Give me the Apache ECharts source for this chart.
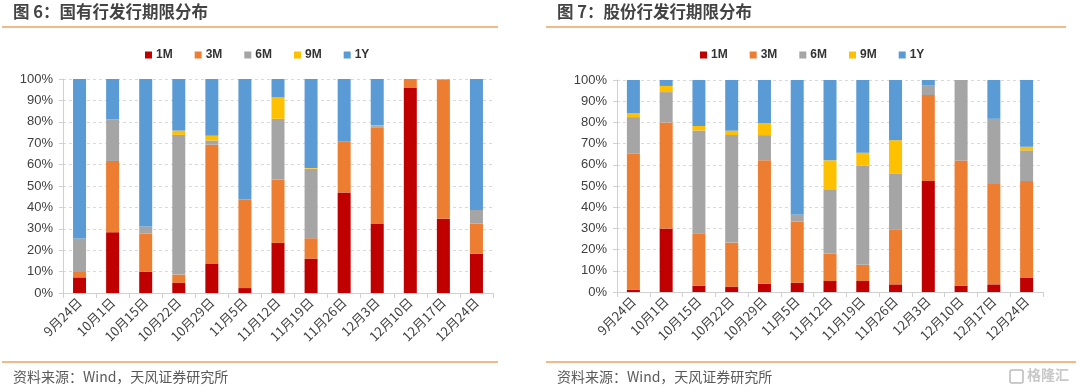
<!DOCTYPE html>
<html><head><meta charset="utf-8">
<script src="https://cdn.jsdelivr.net/npm/echarts@6/dist/echarts.min.js"></script>
<style>html,body{margin:0;padding:0;background:#fff}#c{width:1080px;height:392px}</style>
</head><body><div id="c"></div>
<script>
const categories = ['9月24日','10月1日','10月15日','10月22日','10月29日','11月5日','11月12日','11月19日','11月26日','12月3日','12月10日','12月17日','12月24日'];
const seriesNames = ['1M','3M','6M','9M','1Y'];
const yTicks = ['0%','10%','20%','30%','40%','50%','60%','70%','80%','90%','100%'];
// 图6 国有行 (%)
const state1M = [7.3, 28.4, 10.0, 4.7, 13.8, 2.3, 23.4, 16.1, 47.0, 32.5, 95.8, 34.7, 18.4];
const state3M = [2.9, 33.3, 17.8, 3.9, 55.5, 41.4, 29.6, 9.5, 23.9, 45.0, 4.2, 65.0, 14.1];
const state6M = [15.3, 19.4, 3.3, 65.3, 2.0, 0, 28.4, 32.5, 0, 0.5, 0, 0.3, 6.3];
const state9M = [0, 0, 0, 2.0, 2.2, 0, 10.0, 0.3, 0, 0.3, 0, 0, 0];
const state1Y = [74.5, 18.9, 68.9, 24.1, 26.5, 56.3, 8.6, 41.6, 29.1, 21.7, 0, 0, 61.2];
// 图7 股份行 (%)
const joint1M = [1.1, 29.9, 3.0, 2.4, 3.9, 4.3, 5.2, 5.2, 3.6, 52.4, 3.0, 3.6, 6.6];
const joint3M = [64.2, 50.1, 24.7, 20.9, 58.3, 29.0, 12.8, 7.6, 26.0, 40.5, 59.0, 47.4, 45.7];
const joint6M = [17.2, 14.3, 48.5, 50.7, 11.8, 3.3, 30.5, 46.9, 26.1, 4.7, 38.0, 30.7, 14.5];
const joint9M = [1.9, 2.9, 2.1, 2.1, 5.7, 0, 13.6, 6.0, 15.9, 0, 0, 0, 1.7];
const joint1Y = [15.6, 2.8, 21.7, 23.9, 20.3, 63.4, 37.9, 34.3, 28.4, 2.4, 0, 18.3, 31.5];

const colors = ['#C00000','#ED7D31','#A5A5A5','#FFC000','#5B9BD5'];
const numFont = 'Liberation Sans, Arial, sans-serif';
const cjkFont = '"Noto Sans CJK SC", sans-serif';

function xAxis(gi){
  return {type:'category', gridIndex:gi, data:categories, boundaryGap:true,
    axisLine:{show:true,lineStyle:{color:'#D0D0D0'}},
    axisTick:{show:true,length:5,lineStyle:{color:'#D0D0D0'}},
    axisLabel:{rotate:45, fontSize:13, color:'#404040', fontFamily:cjkFont, margin:7, interval:0}};
}
function yAxis(gi){
  return {type:'value', gridIndex:gi, min:0, max:100, interval:10,
    axisLine:{show:true,lineStyle:{color:'#D0D0D0'}},
    axisTick:{show:true,length:4,lineStyle:{color:'#D0D0D0'}},
    splitLine:{show:true,lineStyle:{color:'#D9D9D9',type:[3,3]}},
    axisLabel:{fontSize:13, color:'#404040', fontFamily:numFont, margin:10,
      formatter:(v)=>yTicks[Math.round(v/10)]}};
}
const groups = [
  [state1M,state3M,state6M,state9M,state1Y],
  [joint1M,joint3M,joint6M,joint9M,joint1Y]
];
const series = [];
groups.forEach((g,gi)=>{
  g.forEach((arr,si)=>{
    series.push({name:seriesNames[si], type:'bar', xAxisIndex:gi, yAxisIndex:gi,
      stack:'s'+gi, barWidth:13, data:arr, itemStyle:{color:colors[si]},
      emphasis:{disabled:true}});
  });
});
function legend(left){
  return {left:left, top:44, itemWidth:7, itemHeight:7, itemGap:22, icon:'rect',
    data:seriesNames, textStyle:{fontSize:12, fontWeight:'bold', color:'#333', fontFamily:numFont, padding:[0,0,0,-1]}};
}
const chart = echarts.init(document.getElementById('c'), null, {renderer:'canvas'});
chart.setOption({
  animation:false,
  color:colors,
  grid:[{left:63, top:79, width:430, height:214},{left:617, top:80, width:426, height:212}],
  xAxis:[xAxis(0), xAxis(1)],
  yAxis:[yAxis(0), yAxis(1)],
  legend:[legend(140), legend(695)],
  series:series,
  graphic:[
    {type:'text', left:13, top:3, style:{text:'图 6：国有行发行期限分布', font:'bold 16.5px '+cjkFont, fill:'#444444'}},
    {type:'text', left:557, top:3, style:{text:'图 7：股份行发行期限分布', font:'bold 16.5px '+cjkFont, fill:'#444444'}},
    {type:'line', shape:{x1:2,y1:27,x2:498,y2:27}, style:{stroke:'#F2A060',lineWidth:1.3}},
    {type:'line', shape:{x1:546,y1:27,x2:1066,y2:27}, style:{stroke:'#F2A060',lineWidth:1.3}},
    {type:'line', shape:{x1:2,y1:362,x2:498,y2:362}, style:{stroke:'#F2A060',lineWidth:1.3}},
    {type:'line', shape:{x1:546,y1:362,x2:1076,y2:362}, style:{stroke:'#F2A060',lineWidth:1.3}},
    {type:'text', left:13, top:370, style:{text:'资料来源：Wind，天风证券研究所', font:'14px '+cjkFont, fill:'#595959'}},
    {type:'text', left:557, top:370, style:{text:'资料来源：Wind，天风证券研究所', font:'14px '+cjkFont, fill:'#595959'}},
    {type:'rect', shape:{x:1010,y:370,width:13,height:13,r:2}, style:{fill:'none',stroke:'#BBBBBB',lineWidth:1.5}},
    {type:'text', left:1027, top:368, style:{text:'格隆汇', font:'bold 14px '+cjkFont, fill:'#C8C8C8'}}
  ]
});
</script></body></html>
